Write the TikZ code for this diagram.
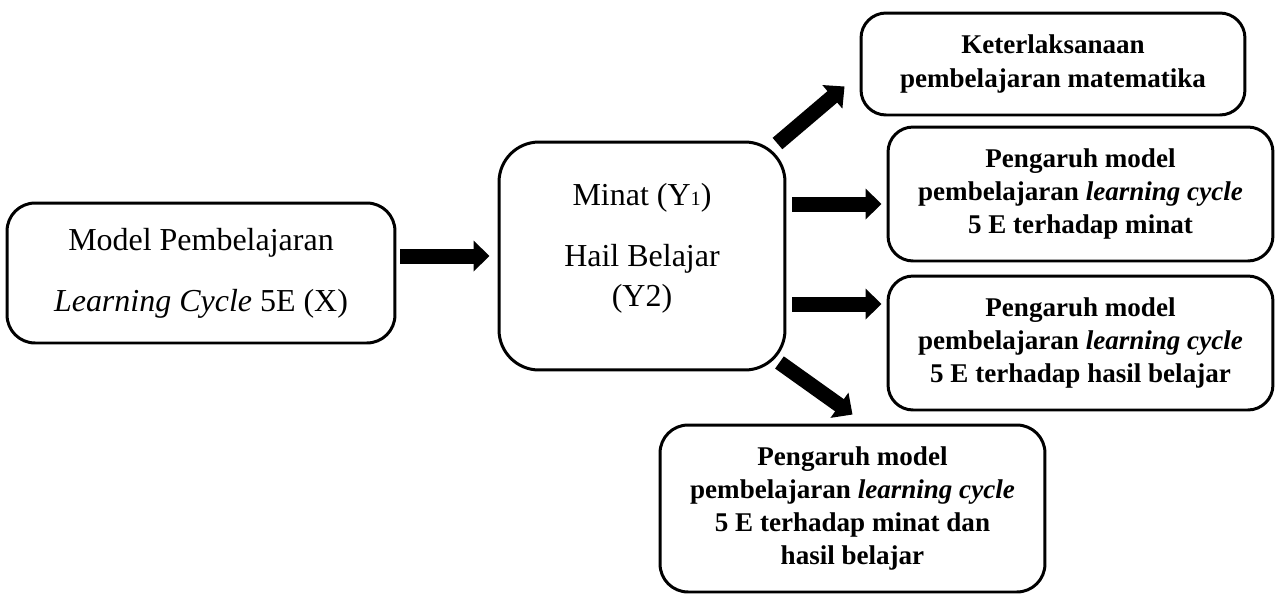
\documentclass[tikz,border=0pt]{standalone}
\usepackage{fontspec}
\setmainfont{Liberation Serif}
\usepackage{tikz}
\usetikzlibrary{arrows.meta, shapes, positioning}
\tikzset{>=latex}
\newcommand{\biasa}{\fontsize{18.2}{22.8}\selectfont}
\newcommand{\tebal}{\bfseries\fontsize{15.4}{18.8}\selectfont}
\newcommand{\kecil}[1]{{\fontsize{11.5}{11.5}\selectfont #1}}

\begin{document}
\begin{tikzpicture}
[x=0.02cm, y=-0.02cm,
kotak/.style={draw, line width=1.7pt, fill=white, inner sep=0pt, align=center},
hasil/.style={kotak, minimum width=7.7cm, rounded corners=0.5cm, font=\tebal},
panah/.style={line width=0.3cm, -{Triangle[length=0.32cm, width=0.6cm]}}]
\useasboundingbox (0,0) rectangle (1276,593);
% kotak kiri dan tengah
\node[kotak, minimum width=7.76cm, minimum height=2.8cm, rounded corners=0.56cm, font=\biasa] (x) at (201,273)
{Model Pembelajaran\\[0.42cm]\textit{Learning Cycle} 5E (X)};
\node[kotak, minimum width=5.72cm, minimum height=4.56cm, rounded corners=0.8cm] (y) at (642,256) {};
\node[align=center, font=\biasa] (ytext) at (642,248)
{Minat (Y\kecil{1})\\[0.42cm]Hail Belajar\\(Y2)};
% kotak kanan
\node[hasil, minimum width=7.68cm, minimum height=2.04cm] (h1) at (1053,64)
{Keterlaksanaan\\pembelajaran matematika};
\node[hasil, minimum height=2.68cm] (h2) at (1080.5,194)
{Pengaruh model\\pembelajaran \textit{learning cycle}\\5 E terhadap minat};
\node[hasil, minimum height=2.68cm] (h3) at (1080.5,343)
{Pengaruh model\\pembelajaran \textit{learning cycle}\\5 E terhadap hasil belajar};
\node[hasil, minimum height=3.34cm, rounded corners=0.56cm] (h4) at (852.5,508.5)
{Pengaruh model\\pembelajaran \textit{learning cycle}\\5 E terhadap minat dan\\hasil belajar};
% panah
\path[panah]
([shift={(4,-17)}]x.east) edge ([shift={(-8,0)}]y.west)
([shift={(-9,3)}]y.north east) edge ([shift={(-15,-30)}]h1.south west)
([shift={(6,-52)}]y.east) edge ([shift={(-5,10)}]h2.west)
([shift={(6,48)}]y.east) edge ([shift={(-5,-39)}]h3.west)
([shift={(-7,-9)}]y.south east) edge ([shift={(0,-9)}]h4.north)
;
\end{tikzpicture}
\end{document}
